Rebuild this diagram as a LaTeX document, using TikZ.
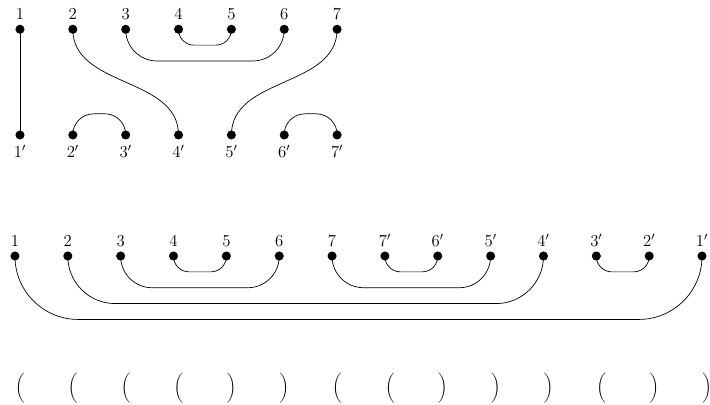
\documentclass[tikz,border=0pt]{standalone}
\usepackage{graphicx}
\begin{document}
\begin{tikzpicture}[x=1.33cm,y=1.33cm,line width=0.5pt,
  dot/.style={circle,fill=black,inner sep=0pt,minimum size=6.5pt},
  every label/.style={font=\large,inner sep=2pt}]
\useasboundingbox (-0.378,0.554) rectangle (13.056,-7.109);
% first diagram
\foreach \i in {1,...,7}{
  \node[dot,label={[label distance=1pt]above:$\i$}] (t\i) at (\i-1,0) {};
  \node[dot,label={[label distance=1.5pt]below:$\i'$}] (b\i) at (\i-1,-2) {};
}
\draw (t1.center) -- (b1.center);
\draw (t2.center) to[out=-90,in=90] (b4.center);
\draw (t7.center) to[out=-90,in=90] (b5.center);
\draw[rounded corners=0.39cm] (t4.center) -- ++(0,-0.3) -| (t5.center);
\draw[rounded corners=0.79cm] (t3.center) -- ++(0,-0.6) -| (t6.center);
\draw[rounded corners=0.52cm] (b2.center) -- ++(0,0.4) -| (b3.center);
\draw[rounded corners=0.52cm] (b6.center) -- ++(0,0.4) -| (b7.center);
% second diagram
\foreach \i/\t in {1/1,2/2,3/3,4/4,5/5,6/6,7/7,8/7',9/6',10/5',11/4',12/3',13/2',14/1'}{
  \node[dot,label={[label distance=1pt]above:$\t$}] (r\i) at (\i-1.095,-4.29) {};
}
\draw[rounded corners=0.39cm] (r4.center) -- ++(0,-0.3) -| (r5.center);
\draw[rounded corners=0.79cm] (r3.center) -- ++(0,-0.6) -| (r6.center);
\draw[rounded corners=1.19cm] (r2.center) -- ++(0,-0.9) -| (r11.center);
\draw[rounded corners=1.59cm] (r1.center) -- ++(0,-1.2) -| (r14.center);
\draw[rounded corners=0.79cm] (r7.center) -- ++(0,-0.6) -| (r10.center);
\draw[rounded corners=0.39cm] (r8.center) -- ++(0,-0.3) -| (r9.center);
\draw[rounded corners=0.39cm] (r12.center) -- ++(0,-0.3) -| (r13.center);
% brackets
\foreach \i/\p in {1/(,2/(,3/(,4/(,5/),6/),7/(,8/(,9/),10/),11/),12/(,13/),14/)}{
  \node (p\i) at (\i-1,-6.78) {\scalebox{0.9}{$\bigg\p$}};
}
\end{tikzpicture}
\end{document}
